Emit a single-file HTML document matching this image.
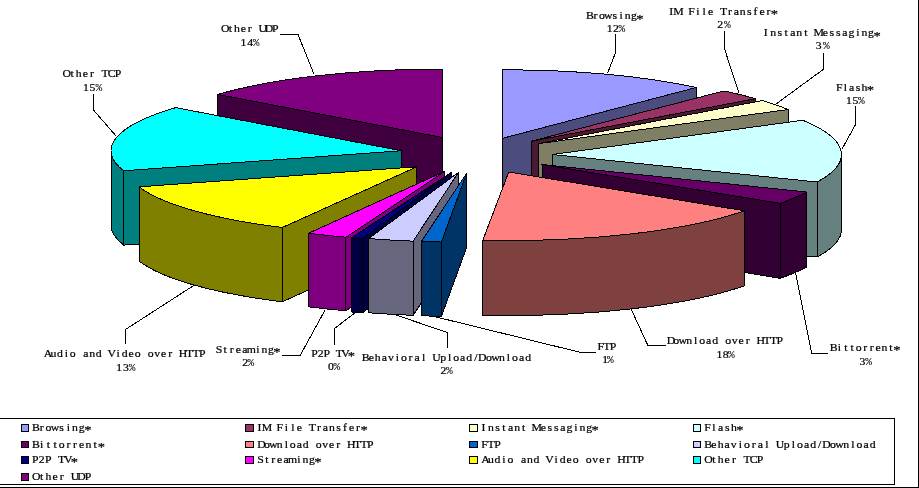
<!DOCTYPE html>
<html lang="en"><head><meta charset="utf-8"><title>Traffic breakdown</title>
<style>html,body{margin:0;padding:0;background:#fff;overflow:hidden}svg{display:block}.pie path{stroke:#000;stroke-width:1;stroke-linejoin:round;shape-rendering:crispEdges}.lead polyline{fill:none;stroke:#000;stroke-width:1;shape-rendering:crispEdges}text{font-family:'Liberation Serif', serif;font-size:10.5px;fill:#000;stroke:#000;stroke-width:0.22px;text-anchor:middle}.pc{font-family:'Liberation Mono',monospace;font-size:10px;stroke-width:0}</style></head><body>
<svg width="919" height="488" viewBox="0 0 919 488">
<rect width="919" height="488" fill="#fff"/>
<g class="lead">
<polyline points="615.5,34.4 615.5,52.7 607.7,73"/>
<polyline points="724.5,31.3 724.5,48.8 738.9,93"/>
<polyline points="823.7,52.7 823.7,69.1 774,105.5"/>
<polyline points="855.5,106.3 855.5,124.5 841.75,149.5"/>
<polyline points="795.75,273.25 811.7,353.2 828.4,353.2"/>
<polyline points="631.2,309.1 647.9,345.5 666,345.5"/>
<polyline points="435.8,316.9 579.7,352.2 596.1,352.2"/>
<polyline points="395.4,314.8 447.3,332.5 447.3,347.8"/>
<polyline points="354.5,313.2 334.9,328.2 334.9,344.5"/>
<polyline points="325.1,310 300.3,355.2 282.3,355.2"/>
<polyline points="194.5,285 125.5,329.5 125.5,344.3"/>
<polyline points="93.9,94.2 93.9,110.5 116.25,136.25"/>
<polyline points="280,34.5 298,34.5 314.2,74.6"/>
</g>
<g class="pie">
<path d="M442.5 137.5 L217.9 94.39 L217.9 169.39 L442.5 212.5 Z" fill="#400040"/>
<path d="M442.5 137.5 L217.9 94.39 A289 68.5 0 0 1 442.5 69 Z" fill="#800080"/>
<path d="M401.3 150.75 L123.68 170.78 L123.68 245.08 L401.3 225.05 Z" fill="#007F7F"/>
<path d="M123.68 170.78 A290.3 68.5 0 0 1 111 150.75 L111 225.05 A290.3 68.5 0 0 0 123.68 245.08 Z" fill="#007F7F"/>
<path d="M401.3 150.75 L123.68 170.78 A290.3 68.5 0 0 1 175.69 107.64 Z" fill="#00FFFF"/>
<path d="M416.9 166.8 L282.31 227.5 L282.31 301.8 L416.9 241.1 Z" fill="#7F7F00"/>
<path d="M282.31 227.5 A290.5 68.5 0 0 1 139.09 186.83 L139.09 261.13 A290.5 68.5 0 0 0 282.31 301.8 Z" fill="#7F7F00"/>
<path d="M416.9 166.8 L282.31 227.5 A290.5 68.5 0 0 1 139.09 186.83 Z" fill="#FFFF00"/>
<path d="M444.3 171.6 L345.93 237.23 L345.93 310.83 L444.3 245.2 Z" fill="#7F007F"/>
<path d="M345.93 237.23 A289 69.8 0 0 1 308.62 233.23 L308.62 306.83 A289 69.8 0 0 0 345.93 310.83 Z" fill="#7F007F"/>
<path d="M444.3 171.6 L345.93 237.23 A289 69.8 0 0 1 308.62 233.23 Z" fill="#FF00FF"/>
<path d="M451.5 172.3 L362.43 238.89 L362.43 312.89 L451.5 246.3 Z" fill="#000040"/>
<path d="M362.43 238.89 A289 70 0 0 1 351.24 237.95 L351.24 311.95 A289 70 0 0 0 362.43 312.89 Z" fill="#000040"/>
<path d="M451.5 172.3 L362.43 238.89 A289 70 0 0 1 351.24 237.95 Z" fill="#000080"/>
<path d="M458.3 172.6 L413.09 241.15 L413.09 315.35 L458.3 246.8 Z" fill="#66667F"/>
<path d="M413.09 241.15 A289 69.4 0 0 1 368.51 238.57 L368.51 312.77 A289 69.4 0 0 0 413.09 315.35 Z" fill="#66667F"/>
<path d="M458.3 172.6 L413.09 241.15 A289 69.4 0 0 1 368.51 238.57 Z" fill="#CCCCFF"/>
<path d="M466.6 173.3 L441.41 242.04 L441.41 316.34 L466.6 247.6 Z" fill="#003366"/>
<path d="M441.41 242.04 A289 69 0 0 1 421.39 241.45 L421.39 315.75 A289 69 0 0 0 441.41 316.34 Z" fill="#003366"/>
<path d="M466.6 173.3 L441.41 242.04 A289 69 0 0 1 421.39 241.45 Z" fill="#0066CC"/>
<path d="M502.5 138.3 L696.25 87.47 L696.25 162.47 L502.5 213.3 Z" fill="#4C4C7F"/>
<path d="M502.5 138.3 L502.5 69.8 A289 68.5 0 0 1 696.25 87.47 Z" fill="#9999FF"/>
<path d="M531.25 141.25 L755.53 98.68 L755.53 173.68 L531.25 216.25 Z" fill="#4C1933"/>
<path d="M531.25 141.25 L723.88 90.93 A289 67.5 0 0 1 755.53 98.68 Z" fill="#993366"/>
<path d="M538 143.75 L788.28 109.5 L788.28 184.5 L538 218.75 Z" fill="#7F7F66"/>
<path d="M538 143.75 L762.28 100.55 A289 68.5 0 0 1 788.28 109.5 Z" fill="#FFFFCC"/>
<path d="M552.5 154.5 L817.13 182.03 L817.13 257.03 L552.5 229.5 Z" fill="#667F7F"/>
<path d="M841.5 154.5 A289 68.5 0 0 1 817.13 182.03 L817.13 257.03 A289 68.5 0 0 0 841.5 229.5 Z" fill="#667F7F"/>
<path d="M552.5 154.5 L802.78 120.25 A289 68.5 0 0 1 817.13 182.03 Z" fill="#CCFFFF"/>
<path d="M542 164.5 L780.17 203.3 L780.17 278.3 L542 239.5 Z" fill="#330033"/>
<path d="M806.63 192.03 A289 68.5 0 0 1 780.17 203.3 L780.17 278.3 A289 68.5 0 0 0 806.63 267.03 Z" fill="#330033"/>
<path d="M542 164.5 L806.63 192.03 A289 68.5 0 0 1 780.17 203.3 Z" fill="#660066"/>
<path d="M744.45 210.8 A286 68.5 0 0 1 482.83 240.22 L482.83 315.22 A286 68.5 0 0 0 744.45 285.8 Z" fill="#7F4040"/>
<path d="M508.75 172 L744.45 210.8 A286 68.5 0 0 1 482.83 240.22 Z" fill="#FF8080"/>
</g>
<g class="lbl" style="filter:grayscale(1)" transform="scale(1.12,1)">
<text x="526.65 531.6 537.34 543.09 548.84 554.59 560.33 566.08" y="19.5">Browsing<tspan x="571.43" dy="3.3" font-size="13px">*</tspan></text>
<text x="544.32 550.04" y="32">12<tspan x="555.31" class="pc">%</tspan></text>
<text x="599.3 605.86 611.6 617.33 623.06 628.79 634.52 640.25 645.98 651.71 657.44 663.18 668.91 674.64 680.37 686.1" y="14.8">IM File Transfer<tspan x="691.43" dy="3.3" font-size="13px">*</tspan></text>
<text x="642.98" y="28">2<tspan x="649.51" class="pc">%</tspan></text>
<text x="683.68 690.33 696.16 701.98 707.81 713.63 719.46 725.28 731.11 736.93 742.75 748.58 754.4 760.23 766.05 771.88 777.7" y="36.3">Instant Messaging<tspan x="783.12" dy="3.3" font-size="13px">*</tspan></text>
<text x="730.92" y="49.2">3<tspan x="737.72" class="pc">%</tspan></text>
<text x="749.32 754.78 760.49 766.21 771.92" y="91">Flash<tspan x="777.23" dy="3.3" font-size="13px">*</tspan></text>
<text x="758.07 763.84" y="104.3">15<tspan x="769.15" class="pc">%</tspan></text>
<text x="744.42 749.38 755.15 760.92 766.69 772.46 778.22 783.99 789.76 795.53" y="351">Bittorrent<tspan x="800.89" dy="3.3" font-size="13px">*</tspan></text>
<text x="769.94" y="365.3">3<tspan x="775.49" class="pc">%</tspan></text>
<text x="599.06 603.79 609.59 615.39 621.18 626.98 632.78 638.58 644.38 650.18 655.97 661.77 667.57 673.37 679.17 684.97 690.76 696.3" y="344.5">Download over HTTP</text>
<text x="642.26 647.9" y="358.4">18<tspan x="653.08" class="pc">%</tspan></text>
<text x="536.38 541.83 547.29" y="350">FTP</text>
<text x="540.3" y="362.6">1<tspan x="544.87" class="pc">%</tspan></text>
<text x="326.47 331.5 337.33 343.17 349 354.83 360.66 366.49 372.33 378.16 383.99 389.82 395.66 401.49 407.32 413.15 418.98 424.82 430.65 436.48 442.31 448.14 453.98 459.81 465.64 471.49" y="361">Behavioral Upload/Download</text>
<text x="395.83" y="374.3">2<tspan x="401.21" class="pc">%</tspan></text>
<text x="280.93 286.25 291.83 297.41 302.99 308.57" y="356.9">P2P TV<tspan x="313.75" dy="3.3" font-size="13px">*</tspan></text>
<text x="295.48" y="370.3">0<tspan x="300.85" class="pc">%</tspan></text>
<text x="195.48 201.06 206.89 212.72 218.56 224.39 230.22 236.06 241.89" y="353.2">Streaming<tspan x="247.32" dy="3.3" font-size="13px">*</tspan></text>
<text x="218.87" y="365.6">2<tspan x="224.06" class="pc">%</tspan></text>
<text x="42.9 47.62 53.42 59.21 65 70.79 76.58 82.38 88.17 93.96 99.75 105.55 111.34 117.13 122.92 128.72 134.51 140.3 146.09 151.89 157.68 163.47 169.26 175.06 180.59" y="357.1">Audio and Video over HTTP</text>
<text x="106.37 112.41" y="371.2">13<tspan x="117.99" class="pc">%</tspan></text>
<text x="59.69 64.49 70.36 76.23 82.1 87.97 93.84 99.71 105.32" y="76.8">Other TCP</text>
<text x="76.64 82.63" y="90.7">15<tspan x="88.17" class="pc">%</tspan></text>
<text x="201.03 205.71 211.47 217.23 222.99 228.75 234.51 240.27 245.77" y="32.2">Other UDP</text>
<text x="217.44 223.3" y="45.9">14<tspan x="228.71" class="pc">%</tspan></text>
</g>
<g class="frame" fill="none" stroke="#000" stroke-width="1" shape-rendering="crispEdges">
<path d="M0 487.5 H918.5 V0"/>
<path d="M0 418.5 H894.5 V484.5 H0"/>
</g>
<g class="legend">
<rect x="21.5" y="424.5" width="7" height="7" fill="#9999FF" stroke="#000" stroke-width="1" shape-rendering="crispEdges"/>
<rect x="245.5" y="424.5" width="8" height="7" fill="#993366" stroke="#000" stroke-width="1" shape-rendering="crispEdges"/>
<rect x="469.5" y="424.5" width="8" height="7" fill="#FFFFCC" stroke="#000" stroke-width="1" shape-rendering="crispEdges"/>
<rect x="693.5" y="424.5" width="7" height="7" fill="#CCFFFF" stroke="#000" stroke-width="1" shape-rendering="crispEdges"/>
<rect x="21.5" y="441.5" width="7" height="6" fill="#660066" stroke="#000" stroke-width="1" shape-rendering="crispEdges"/>
<rect x="245.5" y="441.5" width="8" height="6" fill="#FF8080" stroke="#000" stroke-width="1" shape-rendering="crispEdges"/>
<rect x="469.5" y="441.5" width="8" height="6" fill="#0066CC" stroke="#000" stroke-width="1" shape-rendering="crispEdges"/>
<rect x="693.5" y="441.5" width="7" height="6" fill="#CCCCFF" stroke="#000" stroke-width="1" shape-rendering="crispEdges"/>
<rect x="21.5" y="456.5" width="7" height="7" fill="#000080" stroke="#000" stroke-width="1" shape-rendering="crispEdges"/>
<rect x="245.5" y="456.5" width="8" height="7" fill="#FF00FF" stroke="#000" stroke-width="1" shape-rendering="crispEdges"/>
<rect x="469.5" y="456.5" width="8" height="7" fill="#FFFF00" stroke="#000" stroke-width="1" shape-rendering="crispEdges"/>
<rect x="693.5" y="456.5" width="7" height="7" fill="#00FFFF" stroke="#000" stroke-width="1" shape-rendering="crispEdges"/>
<rect x="21.5" y="473.5" width="7" height="7" fill="#800080" stroke="#000" stroke-width="1" shape-rendering="crispEdges"/>
</g>
<g class="legtxt" style="filter:grayscale(1)" transform="scale(1.12,1)">
<text x="32.1 37.23 43.17 49.11 55.04 60.98 66.92 72.86" y="431.2">Browsing<tspan x="78.39" dy="3.3" font-size="13px">*</tspan></text>
<text x="231.63 238.27 244.08 249.9 255.71 261.53 267.34 273.16 278.97 284.79 290.6 296.42 302.23 308.05 313.86 319.68" y="431.2">IM File Transfer<tspan x="325.09" dy="3.3" font-size="13px">*</tspan></text>
<text x="431.63 438.3 444.15 449.99 455.84 461.68 467.53 473.37 479.22 485.07 490.91 496.76 502.6 508.45 514.29 520.14 525.98" y="431.2">Instant Messaging<tspan x="531.43" dy="3.3" font-size="13px">*</tspan></text>
<text x="631.82 637.47 643.38 649.29 655.21" y="431.2">Flash<tspan x="660.71" dy="3.3" font-size="13px">*</tspan></text>
<text x="32.1 37.25 43.21 49.16 55.12 61.07 67.03 72.98 78.94 84.89" y="447.8">Bittorrent<tspan x="90.44" dy="3.3" font-size="13px">*</tspan></text>
<text x="233.53 238.25 244.04 249.83 255.63 261.42 267.21 273.01 278.8 284.59 290.39 296.18 301.97 307.77 313.56 319.35 325.14 330.68" y="447.8">Download over HTTP</text>
<text x="432.71 438.44 444.16" y="447.8">FTP</text>
<text x="632.36 637.47 643.37 649.27 655.18 661.08 666.98 672.89 678.79 684.69 690.6 696.5 702.41 708.31 714.21 720.12 726.02 731.92 737.83 743.73 749.63 755.54 761.44 767.34 773.25 779.17" y="447.8">Behavioral Upload/Download</text>
<text x="31.55 37.22 43.14 49.06 54.99 60.91" y="463.2">P2P TV<tspan x="66.43" dy="3.3" font-size="13px">*</tspan></text>
<text x="232.71 238.2 243.94 249.69 255.43 261.18 266.92 272.66 278.41" y="463.2">Streaming<tspan x="283.75" dy="3.3" font-size="13px">*</tspan></text>
<text x="433.53 438.28 444.11 449.93 455.76 461.58 467.41 473.24 479.06 484.89 490.71 496.54 502.37 508.19 514.02 519.84 525.67 531.5 537.32 543.15 548.97 554.8 560.62 566.45 572.02" y="463.2">Audio and Video over HTTP</text>
<text x="632.63 637.48 643.39 649.31 655.22 661.14 667.05 672.97 678.62" y="463.2">Other TCP</text>
<text x="32.36 37.23 43.17 49.11 55.04 60.98 66.92 72.86 78.54" y="480">Other UDP</text>
</g>
</svg></body></html>
